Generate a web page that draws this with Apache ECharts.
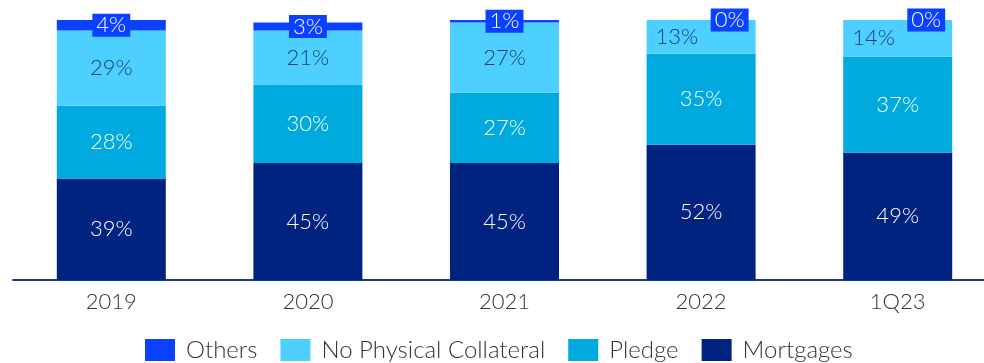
<!DOCTYPE html>
<html>
<head>
<meta charset="utf-8">
<script src="https://cdn.jsdelivr.net/npm/echarts@6/dist/echarts.min.js"></script>
<style>
  html, body { margin: 0; padding: 0; background: #fff; }
  #chart { width: 984px; height: 363px; }
</style>
</head>
<body>
<div id="chart"></div>
<script>
const categories = ['2019', '2020', '2021', '2022', '1Q23'];
const mortgages = [39, 45, 45, 52, 49];
const pledge = [28, 30, 27, 35, 37];
const noPhysical = [29, 21, 27, 13, 14];
const others = [4, 3, 1, 0, 0];

const FONT = 'Lato';
const colors = {
  others: '#0a40ff',
  noPhysical: '#4dd0ff',
  pledge: '#00aade',
  mortgages: '#00237f'
};

let chart = echarts.init(document.getElementById('chart'));

function baseLabel(color) {
  return {
    show: true,
    position: 'inside',
    formatter: '{c}%',
    color: color,
    fontFamily: FONT,
    fontWeight: 300,
    fontSize: 22
  };
}

// no physical collateral: shift to the left when "Others" is 0
let noPhysicalData = noPhysical.map((v, i) => {
  if (others[i] === 0) {
    return { value: v, label: { position: 'insideLeft', distance: 9 } };
  }
  return v;
});

let othersData = others.map((v, i) => {
  if (v === 0) {
    return { value: v, label: { position: 'insideRight', distance: 7 } };
  }
  return v;
});

let option = {
  animation: false,
  grid: {
    left: 13,
    width: 983,
    top: 20,
    bottom: 83,
    outerBoundsMode: 'none',
    containLabel: false
  },
  legend: {
    bottom: 1,
    left: 145,
    padding: 0,
    itemWidth: 30,
    itemHeight: 22,
    itemGap: 23,
    icon: 'rect',
    data: ['Others', 'No Physical Collateral', 'Pledge', 'Mortgages'],
    textStyle: {
      fontFamily: FONT,
      fontWeight: 300,
      fontSize: 24,
      color: '#333',
      padding: [0, 0, 0, 6]
    }
  },
  xAxis: {
    type: 'category',
    data: categories,
    axisLine: { show: true, lineStyle: { color: '#1a3a8c', width: 2 } },
    axisTick: { show: false },
    axisLabel: {
      fontFamily: FONT,
      fontWeight: 300,
      fontSize: 22,
      color: '#333',
      margin: 11
    }
  },
  yAxis: {
    type: 'value',
    min: 0,
    max: 100,
    show: false,
    splitLine: { show: false }
  },
  series: [
    {
      name: 'Mortgages',
      type: 'bar',
      stack: 'total',
      barWidth: 109,
      itemStyle: { color: colors.mortgages },
      label: baseLabel('#fff'),
      data: mortgages
    },
    {
      name: 'Pledge',
      type: 'bar',
      stack: 'total',
      itemStyle: { color: colors.pledge },
      label: baseLabel('#fff'),
      data: pledge
    },
    {
      name: 'No Physical Collateral',
      type: 'bar',
      stack: 'total',
      itemStyle: { color: colors.noPhysical },
      label: baseLabel('#1b3a8a'),
      data: noPhysicalData
    },
    {
      name: 'Others',
      type: 'bar',
      stack: 'total',
      itemStyle: { color: colors.others },
      label: Object.assign(baseLabel('#fff'), {
        backgroundColor: colors.others,
        padding: [1, 4, 0, 4]
      }),
      data: othersData
    }
  ]
};

chart.setOption(option);
</script>
</body>
</html>
